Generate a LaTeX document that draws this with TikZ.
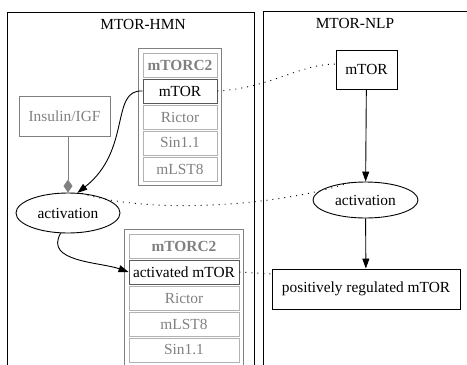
\documentclass[tikz,border=0pt]{standalone}
\usepackage{fontspec}
\setmainfont{Liberation Serif}
\usetikzlibrary{positioning,fit,arrows.meta,shapes.geometric}

\begin{document}
\begin{tikzpicture}[
        x=1pt, y=-1pt,
        line width=0.9pt,
        font=\fontsize{15.4}{18}\selectfont,
        node distance=26pt,
        cell/.style={draw=gray!60, text=gray, minimum height=24pt, inner sep=0pt},
        headcell/.style={cell, font=\fontsize{15.4}{18}\selectfont\bfseries},
        keycell/.style={cell, draw=black!65, text=black},
        complexbox/.style={draw=gray, inner sep=4pt},
        box/.style={draw, rectangle, inner sep=0pt},
        oval/.style={draw, ellipse, inner sep=0pt},
        flow/.style={-{Triangle[length=10pt,width=7pt]}},
        mapping/.style={dash pattern=on 1pt off 5pt}
    ]
    \useasboundingbox (0,0) rectangle (467,365);
    \clip (0,0) rectangle (467,365);
    % clusters
    \draw (7,12) rectangle (254,380);
    \draw (263,11) rectangle (480,380);
    \node (hmn) at (143,24) {MTOR-HMN};
    \node (nlp) at (355,23) {MTOR-NLP};
    % MTOR-HMN
    \node[
        draw=gray,
        text=gray,
        minimum width=91pt,
        minimum height=40pt
    ] (insulin) at (64.5,116.5) {Insulin/IGF};
    \node[oval, minimum width=104pt, minimum height=40pt] (act1) at (68,213) {activation};
    \node[headcell, minimum width=74pt] (c1) at (180,65) {mTORC2};
    \node[keycell, minimum width=74pt, below of=c1] (c2) {mTOR};
    \node[cell, minimum width=74pt, below of=c2] (c3) {Rictor};
    \node[cell, minimum width=74pt, below of=c3] (c4) {Sin1.1};
    \node[cell, minimum width=74pt, below of=c4] (c5) {mLST8};
    \node[complexbox, fit=(c1)(c5)] (complex1) {};
    \node[headcell, minimum width=110pt] (d1) at (184,246) {mTORC2};
    \node[keycell, minimum width=110pt, below of=d1] (d2) {activated mTOR};
    \node[cell, minimum width=110pt, below of=d2] (d3) {Rictor};
    \node[cell, minimum width=110pt, below of=d3] (d4) {mLST8};
    \node[cell, minimum width=110pt, below of=d4] (d5) {Sin1.1};
    \node[complexbox, fit=(d1)(d5)] (complex2) {};
    % MTOR-NLP
    \node[box, minimum width=61pt, minimum height=39pt] (mtor) at (366.5,69.5) {mTOR};
    \node[oval, minimum width=105pt, minimum height=36pt] (act2) at (365.5,200) {activation};
    \node[box, minimum width=188pt, minimum height=40pt] (posreg) at (366,289) {positively regulated mTOR};
    % edges
    \draw[draw=gray, -{Diamond[fill=gray, length=13pt, width=9pt]}] (insulin.south -| act1) -- (act1.north);
    \draw[flow] (c2.west) .. controls (110,89) and (132,150) .. (act1.65);
    \draw[flow] (act1.250) .. controls (44,262) and (100,262) .. (d2.west);
    \draw[flow] (mtor) -- (act2);
    \draw[flow] (act2) -- (posreg);
    % mappings
    \draw[mapping] (c2.east) .. controls (270,88) and (300,64) .. (mtor.170);
    \draw[mapping] (act1.55) .. controls (150,215) and (280,206) .. (act2.130);
    \draw[mapping] (d2.east) -- (posreg.171);
\end{tikzpicture}
\end{document}
